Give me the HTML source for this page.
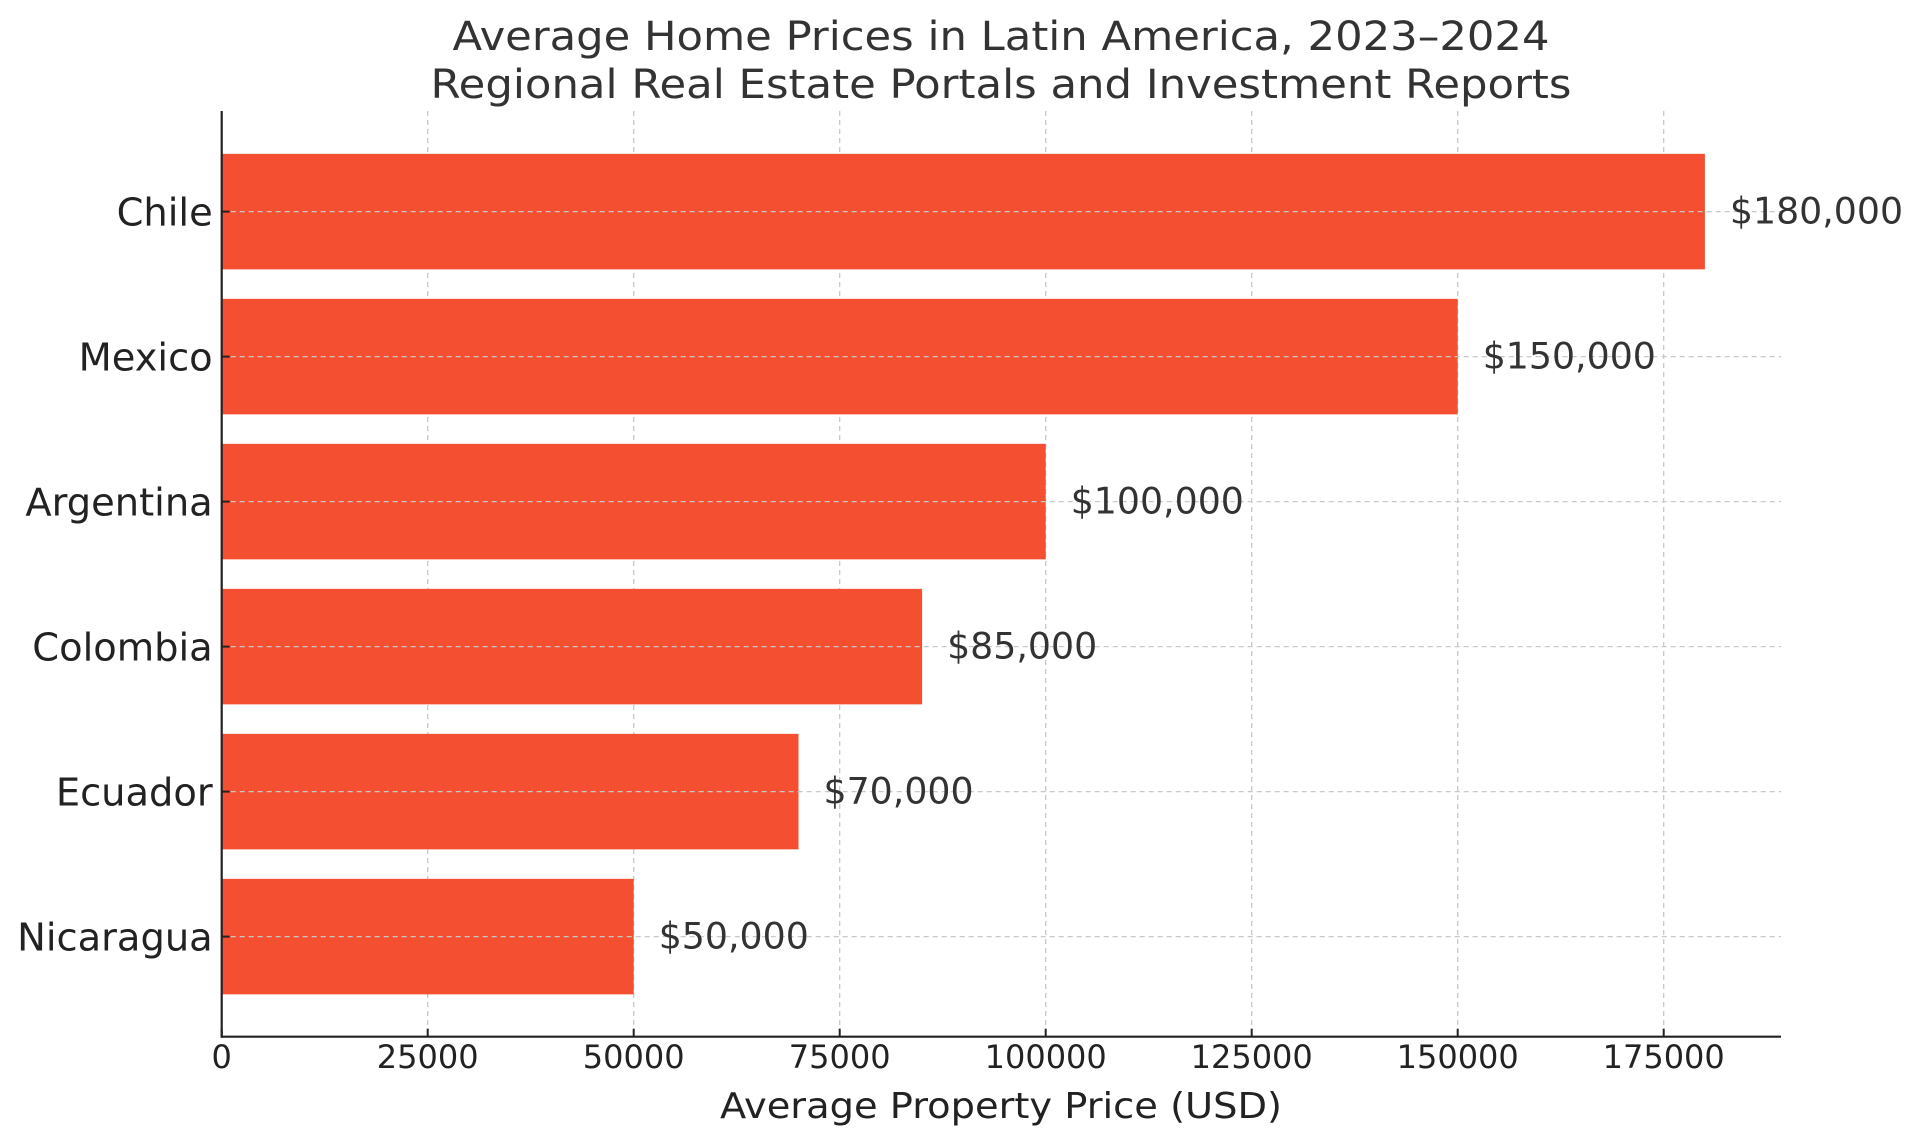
<!DOCTYPE html>
<html><head><meta charset="utf-8"><style>
html,body{margin:0;padding:0;background:#fff;}
svg{display:block;font-family:"DejaVu Sans","Liberation Sans",sans-serif;}
</style></head><body>
<svg id="chart" width="1920" height="1142" viewBox="0 0 1920 1142" xmlns="http://www.w3.org/2000/svg">
<text x="1001" y="50" text-anchor="middle" font-size="40" fill="#333" textLength="1097" lengthAdjust="spacingAndGlyphs">Average Home Prices in Latin America, 2023–2024</text>
<text x="1001" y="98" text-anchor="middle" font-size="40" fill="#333" textLength="1141" lengthAdjust="spacingAndGlyphs">Regional Real Estate Portals and Investment Reports</text>
<g id="grid"></g>
<g id="bars"></g>
<g id="axes"></g>
<text x="1001" y="1118" text-anchor="middle" font-size="36" fill="#222" textLength="562" lengthAdjust="spacingAndGlyphs">Average Property Price (USD)</text>
</svg>
<script>
const categories = ["Chile","Mexico","Argentina","Colombia","Ecuador","Nicaragua"];
const values = [180000,150000,100000,85000,70000,50000];
const valueLabels = ["$180,000","$150,000","$100,000","$85,000","$70,000","$50,000"];
const xTicks = [0,25000,50000,75000,100000,125000,150000,175000];

const NS="http://www.w3.org/2000/svg";
const plotLeft=221.7, plotTop=111, plotBottom=1036.7, plotRight=1781;
const pxPer = 206.0/25000;
function xScale(v){return plotLeft+v*pxPer;}
const band=145, firstCenter=211.6;
function yScale(i){return firstCenter+i*band;}
function mk(tag,attrs,parent){const e=document.createElementNS(NS,tag);for(const k in attrs)e.setAttribute(k,attrs[k]);parent.appendChild(e);return e;}
const gridG=document.getElementById('grid'), barsG=document.getElementById('bars'), axesG=document.getElementById('axes');

xTicks.forEach((t)=>{
  const x=xScale(t);
  const g=mk('line',{x1:x,x2:x,y1:plotTop,y2:plotBottom,stroke:'#c8c8c8','stroke-width':1.3,'stroke-dasharray':'5,4'},gridG);
  
  
  const tk=mk('line',{x1:x,x2:x,y1:plotBottom,y2:plotBottom-8,stroke:'#222','stroke-width':2},axesG);
  
  
  const lb=mk('text',{x:x,y:1068,'text-anchor':'middle','font-size':32,fill:'#222'},axesG);
  lb.textContent=String(t);
  
  
});
categories.forEach((c,i)=>{
  const y=yScale(i);
  const bh=115.5;
  const r=mk('rect',{x:plotLeft,y:y-bh/2,width:xScale(values[i])-plotLeft,height:bh,fill:'#F44F30'},barsG);
  
  
  const g=mk('line',{x1:plotLeft,x2:plotRight,y1:y,y2:y,stroke:'#c8c8c8','stroke-width':1.3,'stroke-dasharray':'5,4'},axesG);
  
  
  const tk=mk('line',{x1:plotLeft,x2:plotLeft+8,y1:y,y2:y,stroke:'#222','stroke-width':2},axesG);
  
  
  const lb=mk('text',{x:plotLeft-9,y:y+14,'text-anchor':'end','font-size':38.4,fill:'#222'},axesG);
  lb.textContent=c;
  
  
  const vl=mk('text',{x:xScale(values[i])+25,y:y+12,'font-size':36.3,fill:'#333'},axesG);
  vl.textContent=valueLabels[i];
  
  
});
const ys=mk('line',{x1:plotLeft,x2:plotLeft,y1:plotTop,y2:plotBottom+1,stroke:'#222','stroke-width':2.2},axesG);


const xs=mk('line',{x1:plotLeft-1,x2:plotRight,y1:plotBottom,y2:plotBottom,stroke:'#222','stroke-width':2.2},axesG);


</script>
</body></html>
